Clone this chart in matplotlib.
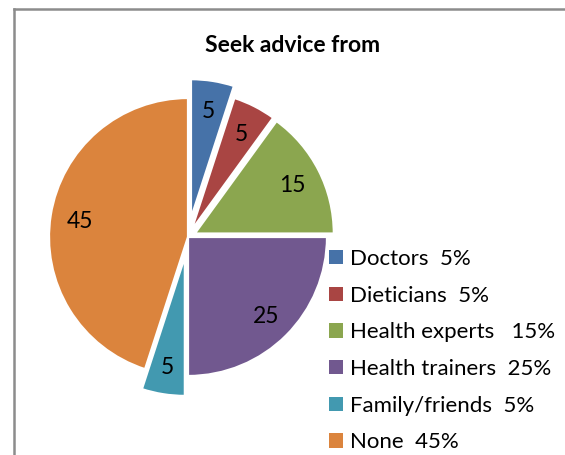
import matplotlib
matplotlib.use("Agg")
import matplotlib.pyplot as plt
from matplotlib.lines import Line2D

plt.rcParams['font.family'] = ['Lato', 'DejaVu Sans']

categories = ["Doctors", "Dieticians", "Health experts", "Health trainers", "Family/friends", "None"]
values = [5, 5, 15, 25, 5, 45]
legend_labels = ["Doctors  5%", "Dieticians  5%", "Health experts   15%",
                 "Health trainers  25%", "Family/friends  5%", "None  45%"]
title = "Seek advice from"

colors = ["#4672A8", "#A94543", "#8BA64F", "#71588F", "#4299B0", "#DB843D"]
explode = [0.137, 0.055, 0.055, 0.0, 0.145, 0.0]

W, H = 565, 455
fig = plt.figure(figsize=(W / 100, H / 100), dpi=100)
ax = fig.add_axes([0, 0, 1, 1])

# pixel geometry: centre (188, 237), radius 139 px
cx, cy, R = 188.0, 237.0, 139.0

wedges, texts, autotexts = ax.pie(
    values, colors=colors, explode=explode, startangle=90, counterclock=False,
    radius=1.0, autopct='%.0f', pctdistance=0.79,
    wedgeprops=dict(edgecolor='white', linewidth=1.6),
    textprops=dict(fontsize=16.5, color='black'))
for t in autotexts:
    t.set_va('center_baseline')
ax.set_xlim(-cx / R, (W - cx) / R)
ax.set_ylim(-(H - cy) / R, cy / R)
ax.set_aspect('equal')
ax.axis('off')

fig.text(293 / W, 1 - 45 / H, title, ha='center', va='center',
         fontsize=16.5, fontweight='bold')

leg = fig.legend(wedges, legend_labels, loc='upper left',
                 bbox_to_anchor=(329 / W, 1 - 249 / H), bbox_transform=fig.transFigure,
                 frameon=False, fontsize=16, handlelength=0.63, handleheight=0.63,
                 handletextpad=0.32, labelspacing=0.75, borderpad=0, borderaxespad=0)
for h in leg.legend_handles:
    h.set_edgecolor('none')

# chart frame (partially cropped)
fig.add_artist(Line2D([14 / W, 14 / W], [0, 1 - 9 / H], transform=fig.transFigure,
                      color='#8c8c8c', linewidth=1.8, solid_capstyle='projecting'))
fig.add_artist(Line2D([14 / W, 1], [1 - 9 / H, 1 - 9 / H], transform=fig.transFigure,
                      color='#8c8c8c', linewidth=1.8, solid_capstyle='projecting'))

fig.savefig("out.png", dpi=100)
